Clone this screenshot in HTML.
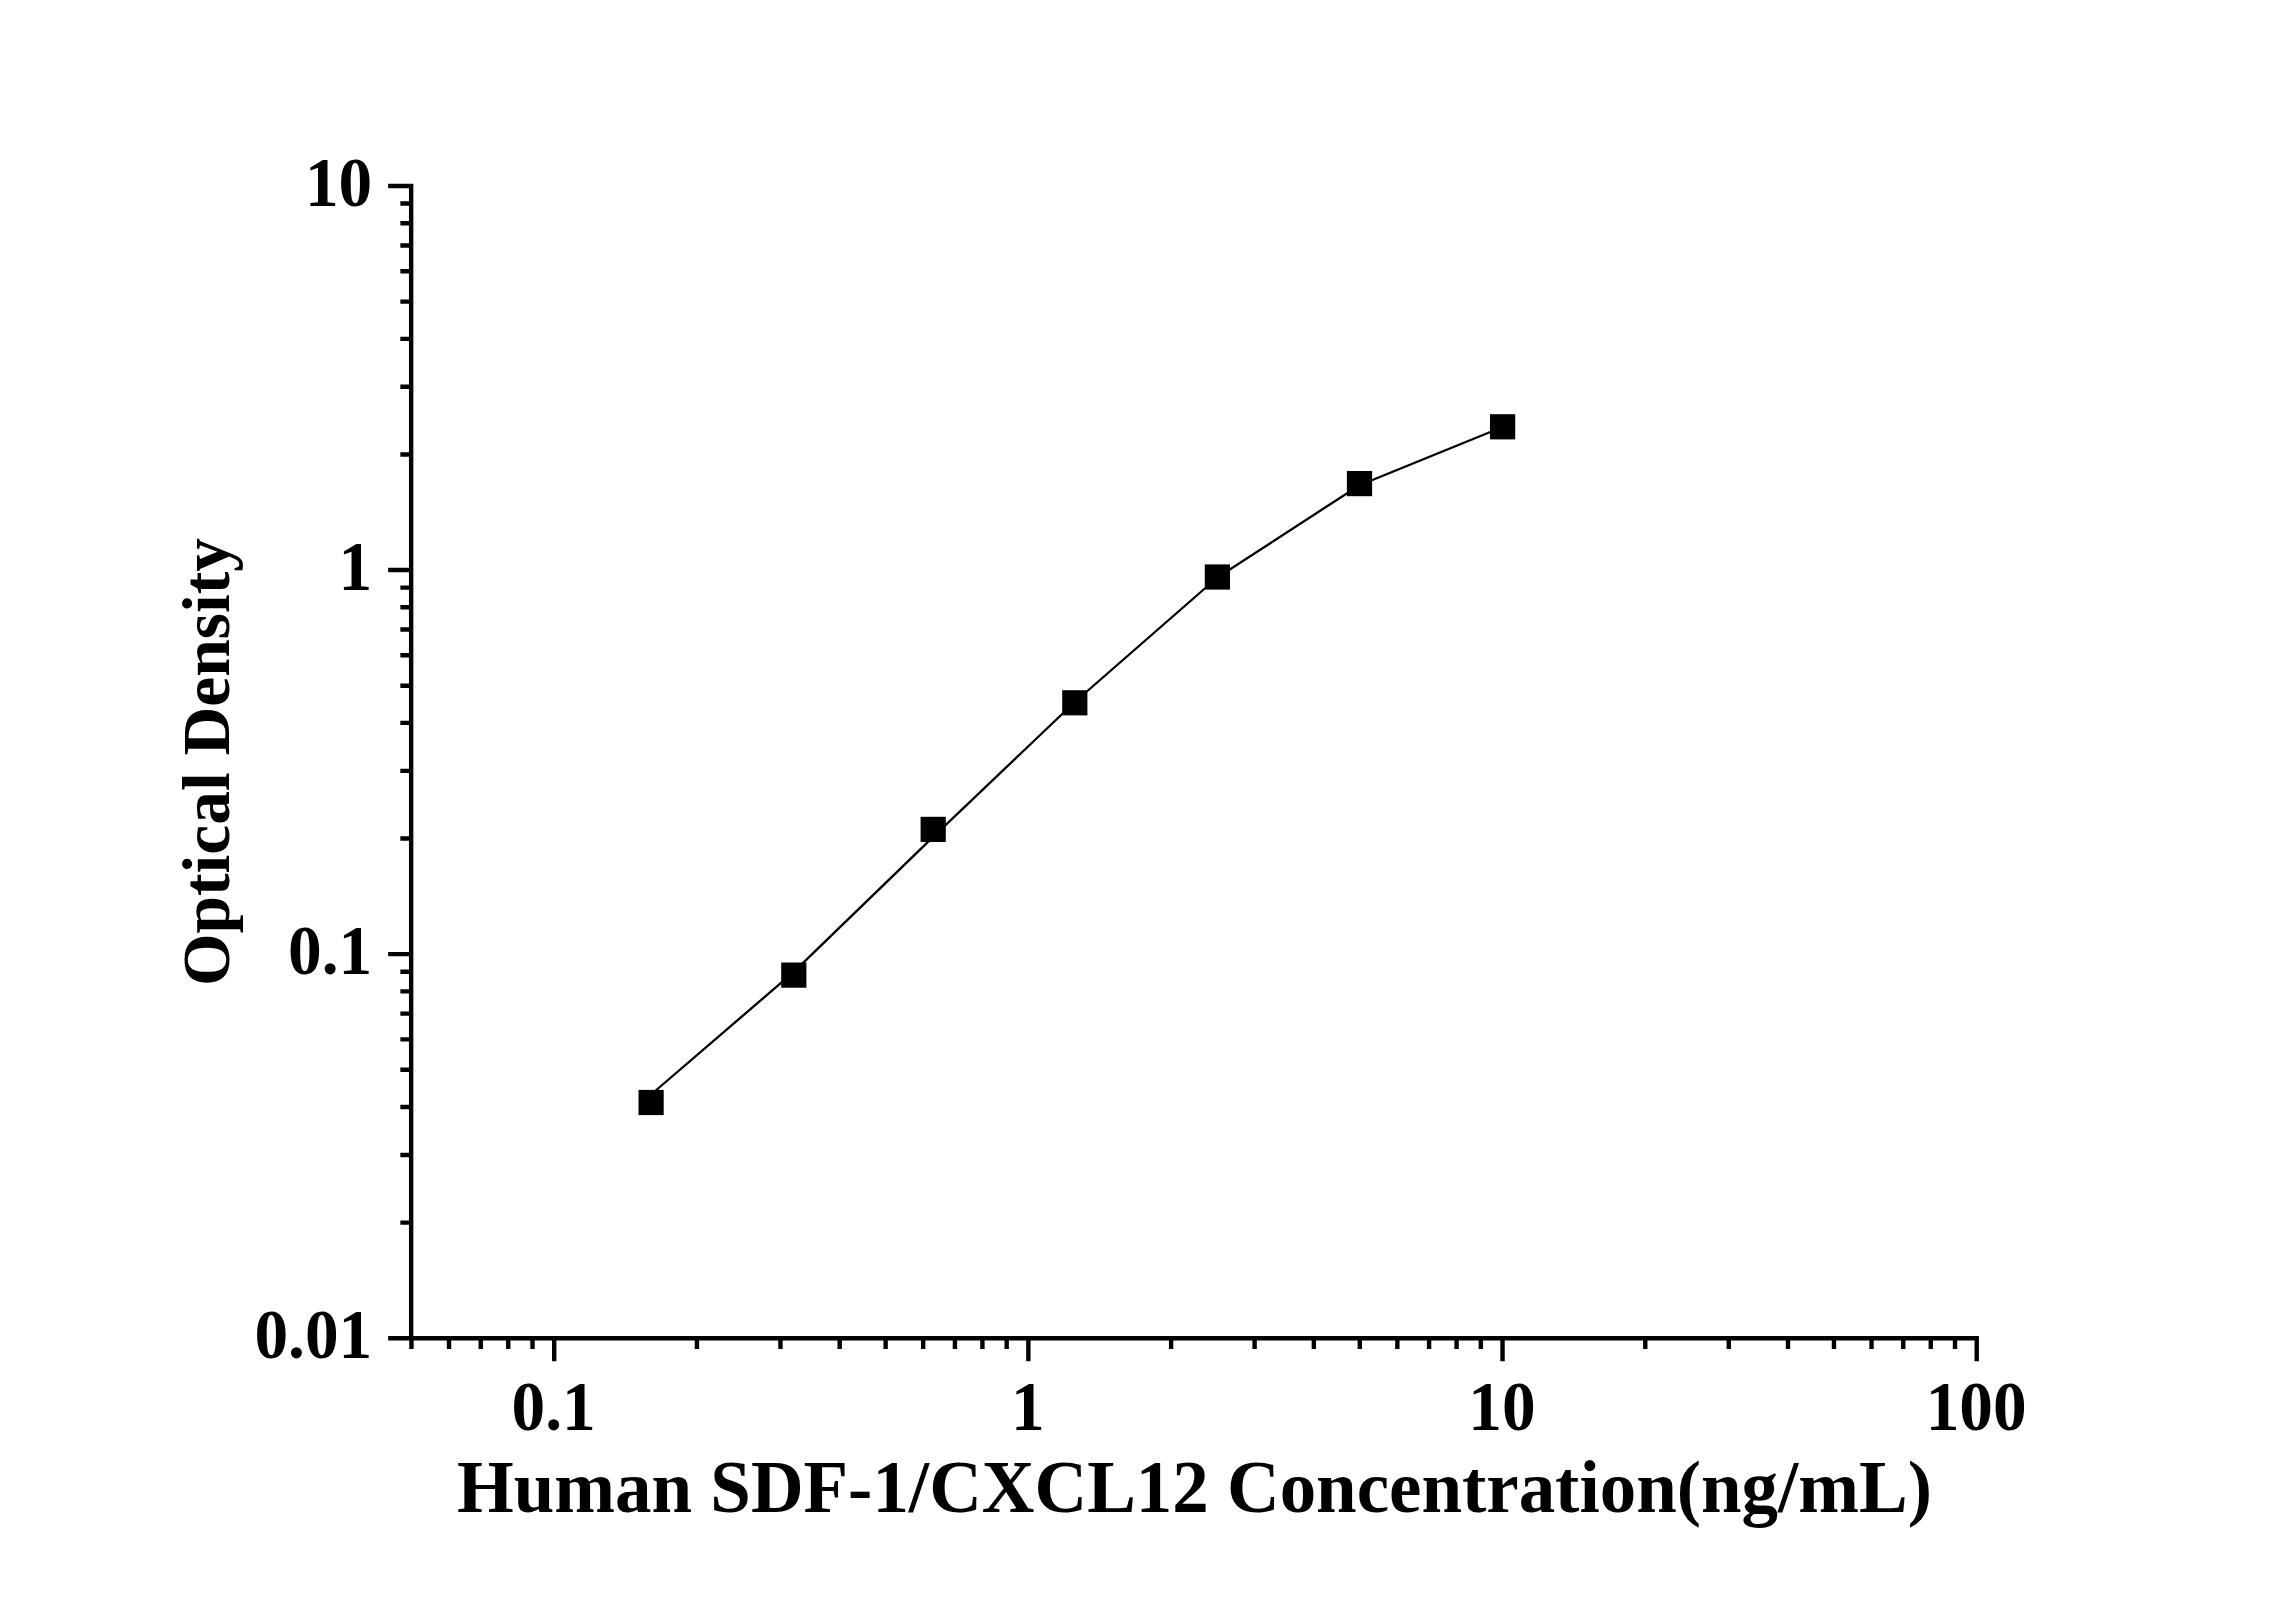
<!DOCTYPE html>
<html lang="en"><head><meta charset="utf-8"><title>Human SDF-1/CXCL12 standard curve</title>
<style>html,body{margin:0;padding:0;background:#fff}body{width:2296px;height:1604px;overflow:hidden}svg{display:block}text{font-family:"Liberation Serif",serif;font-weight:bold;fill:#000}</style></head><body>
<svg width="2296" height="1604" viewBox="0 0 2296 1604">
<rect width="2296" height="1604" fill="#fff"/>
<path d="M411.15 183.8V1340.4M408.95 1338.2H1978.91M411.15 1338.21H388.15M411.15 1222.59H400.35M411.15 1154.96H400.35M411.15 1106.98H400.35M411.15 1069.76H400.35M411.15 1039.35H400.35M411.15 1013.63H400.35M411.15 991.36H400.35M411.15 971.71H400.35M411.15 954.14H388.15M411.15 838.52H400.35M411.15 770.89H400.35M411.15 722.91H400.35M411.15 685.69H400.35M411.15 655.28H400.35M411.15 629.56H400.35M411.15 607.29H400.35M411.15 587.64H400.35M411.15 570.07H388.15M411.15 454.45H400.35M411.15 386.82H400.35M411.15 338.84H400.35M411.15 301.62H400.35M411.15 271.21H400.35M411.15 245.49H400.35M411.15 223.22H400.35M411.15 203.57H400.35M411.15 186H388.15M411.46 1338.2V1349M449.01 1338.2V1349M480.75 1338.2V1349M508.25 1338.2V1349M532.5 1338.2V1349M554.2 1338.2V1361.2M696.94 1338.2V1349M780.44 1338.2V1349M839.68 1338.2V1349M885.63 1338.2V1349M923.18 1338.2V1349M954.92 1338.2V1349M982.42 1338.2V1349M1006.67 1338.2V1349M1028.37 1338.2V1361.2M1171.11 1338.2V1349M1254.61 1338.2V1349M1313.85 1338.2V1349M1359.8 1338.2V1349M1397.35 1338.2V1349M1429.09 1338.2V1349M1456.59 1338.2V1349M1480.84 1338.2V1349M1502.54 1338.2V1361.2M1645.28 1338.2V1349M1728.78 1338.2V1349M1788.02 1338.2V1349M1833.97 1338.2V1349M1871.52 1338.2V1349M1903.26 1338.2V1349M1930.76 1338.2V1349M1955.01 1338.2V1349M1976.71 1338.2V1361.2" fill="none" stroke="#000" stroke-width="4.4" stroke-linecap="butt"/>
<polyline points="651.1,1094.5 793.8,971.9 933.2,836.9 1074.8,702 1217.4,577.5 1359.5,485.2 1502.6,427" fill="none" stroke="#000" stroke-width="2.3" stroke-linejoin="round"/>
<rect x="638.5" y="1089.9" width="25.2" height="25.2"/>
<rect x="781.2" y="962.5" width="25.2" height="25.2"/>
<rect x="920.6" y="816.8" width="25.2" height="25.2"/>
<rect x="1062.2" y="690.2" width="25.2" height="25.2"/>
<rect x="1204.8" y="564.4" width="25.2" height="25.2"/>
<rect x="1346.9" y="471" width="25.2" height="25.2"/>
<rect x="1490" y="414.2" width="25.2" height="25.2"/>
<text transform="translate(372.2 205.7) scale(1 1.04)" font-size="67.3" text-anchor="end">10</text>
<text transform="translate(372.2 589.77) scale(1 1.04)" font-size="67.3" text-anchor="end">1</text>
<text transform="translate(372.2 973.84) scale(1 1.04)" font-size="67.3" text-anchor="end">0.1</text>
<text transform="translate(372.2 1357.91) scale(1 1.04)" font-size="67.3" text-anchor="end">0.01</text>
<text transform="translate(553.6 1430.1) scale(1 1.04)" font-size="67.3" text-anchor="middle">0.1</text>
<text transform="translate(1027.77 1430.1) scale(1 1.04)" font-size="67.3" text-anchor="middle">1</text>
<text transform="translate(1501.94 1430.1) scale(1 1.04)" font-size="67.3" text-anchor="middle">10</text>
<text transform="translate(1976.11 1430.1) scale(1 1.04)" font-size="67.3" text-anchor="middle">100</text>
<text x="1194.5" y="1511.9" font-size="72.95" text-anchor="middle">Human SDF-1/CXCL12 Concentration(ng/mL)</text>
<text transform="translate(228.8 762) rotate(-90)" font-size="67.5" text-anchor="middle">Optical Density</text>
</svg></body></html>
